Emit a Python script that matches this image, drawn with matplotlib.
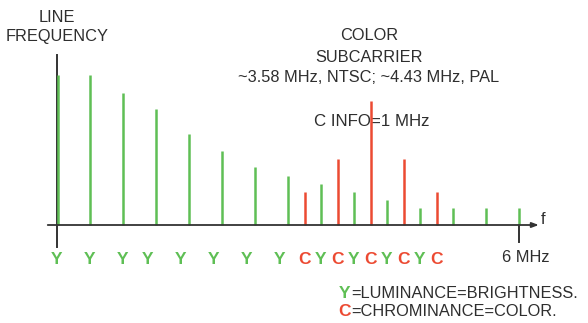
import matplotlib
matplotlib.use("Agg")
import matplotlib.pyplot as plt

plt.rcParams['font.family'] = ['Liberation Sans', 'DejaVu Sans']

# spectral lines: position (line-frequency steps) and relative height
luma_pos = [0, 1, 2, 3, 4, 5, 6, 7, 8, 9, 10, 11, 12, 13, 14]
luma_h = [150, 150, 132, 116, 91, 74, 58, 49, 41, 33, 25, 17, 17, 17, 17]
chroma_pos = [7.5, 8.5, 9.5, 10.5, 11.5]
chroma_h = [33, 66, 124, 66, 33]

# letters under the axis
label_txt = ['Y', 'Y', 'Y', 'Y', 'Y', 'Y', 'Y', 'Y',
             'C', 'Y', 'C', 'Y', 'C', 'Y', 'C', 'Y', 'C']
label_pos = [0, 1, 2, 2.75, 3.75, 4.75, 5.75, 6.75,
             7.5, 8, 8.5, 9, 9.5, 10, 10.5, 11, 11.5]

GREEN = '#5fbf55'
RED = '#ec4a32'
TXT = '#2e2e2e'
FS = 11.8

fig = plt.figure(figsize=(5.88, 3.23), dpi=100)
ax = fig.add_axes([0, 0, 1, 1])
ax.set_xlim(-57 / 33, (588 - 57) / 33)
ax.set_ylim(-98, 225)
ax.axis('off')

# baseline with arrow and the dc line
ax.annotate('', xy=(14.6, 0), xytext=(-0.28, 0),
            arrowprops=dict(arrowstyle='-|>,head_length=0.4,head_width=0.15',
                            color='#333333', lw=1.3, shrinkA=0, shrinkB=0))
ax.plot([0, 0], [-22, 170], color='#333333', lw=1.4, zorder=1)
ax.plot([14, 14], [-17, 0], color='#333333', lw=1.4, zorder=1)

ax.vlines([p + 0.03 if p == 0 else p for p in luma_pos], 0, luma_h,
          color=GREEN, lw=1.8, zorder=2)
ax.vlines(chroma_pos, 0, chroma_h, color=RED, lw=1.8, zorder=2)

for t, p in zip(label_txt, label_pos):
    ax.text(p, -35, t, color=GREEN if t == 'Y' else RED, fontsize=12.5,
            fontweight='bold', ha='center', va='center')

ax.text(14.65, 5, 'f', color=TXT, fontsize=FS, ha='left', va='center')
ax.text(14.2, -33, '6 MHz', color=TXT, fontsize=FS, ha='center', va='center')

ax.text(0, 207, 'LINE', color=TXT, fontsize=FS, ha='center', va='center')
ax.text(0, 188, 'FREQUENCY', color=TXT, fontsize=FS, ha='center', va='center')

ax.text(9.45, 189, 'COLOR', color=TXT, fontsize=FS, ha='center', va='center')
ax.text(9.45, 168, 'SUBCARRIER', color=TXT, fontsize=FS, ha='center', va='center')
ax.text(9.45, 148, '~3.58 MHz, NTSC; ~4.43 MHz, PAL', color=TXT, fontsize=FS,
        ha='center', va='center')
ax.text(9.55, 103, 'C INFO=1 MHz', color=TXT, fontsize=12.2, ha='center',
        va='center', zorder=1)

ax.text(8.72, -68, 'Y', color=GREEN, fontsize=12.5, fontweight='bold',
        ha='center', va='center')
ax.text(8.92, -68, '=LUMINANCE=BRIGHTNESS.', color=TXT, fontsize=FS,
        ha='left', va='center')
ax.text(8.72, -87, 'C', color=RED, fontsize=12.5, fontweight='bold',
        ha='center', va='center')
ax.text(8.92, -87, '=CHROMINANCE=COLOR.', color=TXT, fontsize=FS,
        ha='left', va='center')

fig.savefig('out.png', dpi=100)
